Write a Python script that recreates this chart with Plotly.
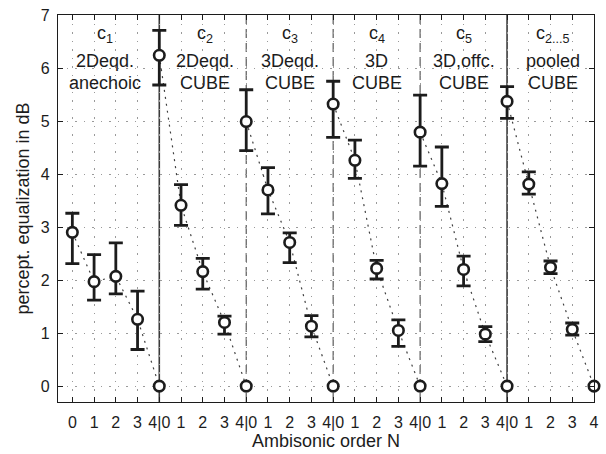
import plotly.graph_objects as go

# ---------------- data ----------------
orders = [0, 1, 2, 3, 4]
conditions = ["c1", "c2", "c3", "c4", "c5", "pooled"]
label_top = ["c<sub>1</sub>", "c<sub>2</sub>", "c<sub>3</sub>", "c<sub>4</sub>", "c<sub>5</sub>", "c<sub>2...5</sub>"]
label_mid = ["2Deqd.", "2Deqd.", "3Deqd.", "3D", "3D,offc.", "pooled"]
label_bot = ["anechoic", "CUBE", "CUBE", "CUBE", "CUBE", "CUBE"]

# mean perceptual equalization (dB) for N = 0..4 (N=4 is the reference, 0 dB)
mean_c1 = [2.90, 1.97, 2.07, 1.26, 0.0]
mean_c2 = [6.24, 3.41, 2.16, 1.20, 0.0]
mean_c3 = [4.99, 3.70, 2.71, 1.13, 0.0]
mean_c4 = [5.32, 4.26, 2.22, 1.05, 0.0]
mean_c5 = [4.79, 3.82, 2.20, 0.98, 0.0]
mean_pooled = [5.37, 3.81, 2.24, 1.07, 0.0]

# upper / lower confidence limits for N = 0..3
upper_c1 = [3.26, 2.48, 2.70, 1.79]
upper_c2 = [6.71, 3.80, 2.41, 1.32]
upper_c3 = [5.59, 4.12, 2.89, 1.33]
upper_c4 = [5.75, 4.64, 2.37, 1.25]
upper_c5 = [5.49, 4.51, 2.45, 1.12]
upper_pooled = [5.65, 4.04, 2.36, 1.19]

lower_c1 = [2.31, 1.62, 1.74, 0.69]
lower_c2 = [5.68, 3.03, 1.83, 0.98]
lower_c3 = [4.44, 3.25, 2.33, 0.93]
lower_c4 = [4.69, 3.92, 2.02, 0.75]
lower_c5 = [4.15, 3.39, 1.89, 0.84]
lower_pooled = [5.05, 3.62, 2.12, 0.96]

tick_labels = ["0", "1", "2", "3", "4|0",
               "1", "2", "3", "4|0",
               "1", "2", "3", "4|0",
               "1", "2", "3", "4|0",
               "1", "2", "3", "4|0",
               "1", "2", "3", "4"]

means = [mean_c1, mean_c2, mean_c3, mean_c4, mean_c5, mean_pooled]
uppers = [upper_c1, upper_c2, upper_c3, upper_c4, upper_c5, upper_pooled]
lowers = [lower_c1, lower_c2, lower_c3, lower_c4, lower_c5, lower_pooled]

# ---------------- styling ----------------
INK = "#1c1c1c"
FONT = "Liberation Sans, Arial, Helvetica, sans-serif"
seg_len = len(orders) - 1

fig = go.Figure()

# separators between conditions
sep_styles = ["solid", "dash", "dash", "dash", "solid"]
for i, st in enumerate(sep_styles):
    xpos = (i + 1) * seg_len
    fig.add_shape(type="line", xref="x", yref="paper", x0=xpos, x1=xpos, y0=0, y1=1,
                  layer="between",
                  line=dict(color="#3a3a3a" if st == "solid" else "#5a5a5a",
                            width=1.6 if st == "solid" else 1.2,
                            dash="solid" if st == "solid" else "9px,5px"))

for k, cond in enumerate(conditions):
    xs = [k * seg_len + n for n in orders]
    m = means[k]
    # dotted connecting line
    fig.add_trace(go.Scatter(x=xs, y=m, mode="lines",
                             line=dict(color="#404040", width=1.2, dash="2px,5px"),
                             hoverinfo="skip", showlegend=False, cliponaxis=False))
    # means with confidence intervals (N=0..3)
    up = [u - v for u, v in zip(uppers[k], m[:4])]
    dn = [v - l for v, l in zip(m[:4], lowers[k])]
    fig.add_trace(go.Scatter(x=xs[:4], y=m[:4], mode="markers",
                             marker=dict(symbol="circle", size=10.5, color="white",
                                         line=dict(color=INK, width=2.6)),
                             error_y=dict(type="data", symmetric=False, array=up, arrayminus=dn,
                                          color=INK, thickness=2.8, width=7),
                             showlegend=False, name=cond, cliponaxis=False))
    # reference point (N=4)
    fig.add_trace(go.Scatter(x=xs[4:], y=m[4:], mode="markers",
                             marker=dict(symbol="circle", size=10.5, color="white",
                                         line=dict(color=INK, width=2.6)),
                             showlegend=False, name=cond + " ref", cliponaxis=False))

# condition labels
text_x = [1.5, 6.1, 10, 14, 18, 22.1]
for k in range(len(conditions)):
    fig.add_annotation(x=text_x[k], y=6.63, xref="x", yref="y", text=label_top[k],
                       showarrow=False, font=dict(family=FONT, size=18, color=INK))
    fig.add_annotation(x=text_x[k], y=6.13, xref="x", yref="y", text=label_mid[k],
                       showarrow=False, font=dict(family=FONT, size=18, color=INK))
    fig.add_annotation(x=text_x[k], y=5.71, xref="x", yref="y", text=label_bot[k],
                       showarrow=False, font=dict(family=FONT, size=18, color=INK))

n_ticks = len(conditions) * seg_len + 1
fig.update_layout(
    width=606, height=454,
    margin=dict(l=58, r=12, t=15, b=52, autoexpand=False),
    paper_bgcolor="white", plot_bgcolor="white",
    font=dict(family=FONT, size=16, color=INK),
    xaxis=dict(range=[-0.66, 24], tickmode="array", automargin=False,
               tickvals=list(range(n_ticks)), ticktext=tick_labels,
               ticks="inside", ticklen=5, tickcolor=INK, tickwidth=1,
               showline=True, linecolor=INK, linewidth=1.2, mirror="ticks",
               showgrid=True, gridcolor="#9a9a9a", gridwidth=1, griddash="1.5px,7px",
               zeroline=False, ticklabelstandoff=6,
               title=dict(text="Ambisonic order N", font=dict(size=18), standoff=2),
               tickfont=dict(size=16)),
    yaxis=dict(range=[-0.3, 7], tickmode="linear", tick0=0, dtick=1, automargin=False,
               ticks="inside", ticklen=5, tickcolor=INK, tickwidth=1,
               showline=True, linecolor=INK, linewidth=1.2, mirror="ticks",
               showgrid=True, gridcolor="#9a9a9a", gridwidth=1, griddash="1.5px,7px",
               zeroline=False, ticklabelstandoff=4,
               title=dict(text="percept. equalization in dB", font=dict(size=18), standoff=6),
               tickfont=dict(size=16)),
)

fig.write_html("out.html", config={"displayModeBar": False},
               post_script="document.body.style.margin='0';document.body.style.overflow='hidden';")
